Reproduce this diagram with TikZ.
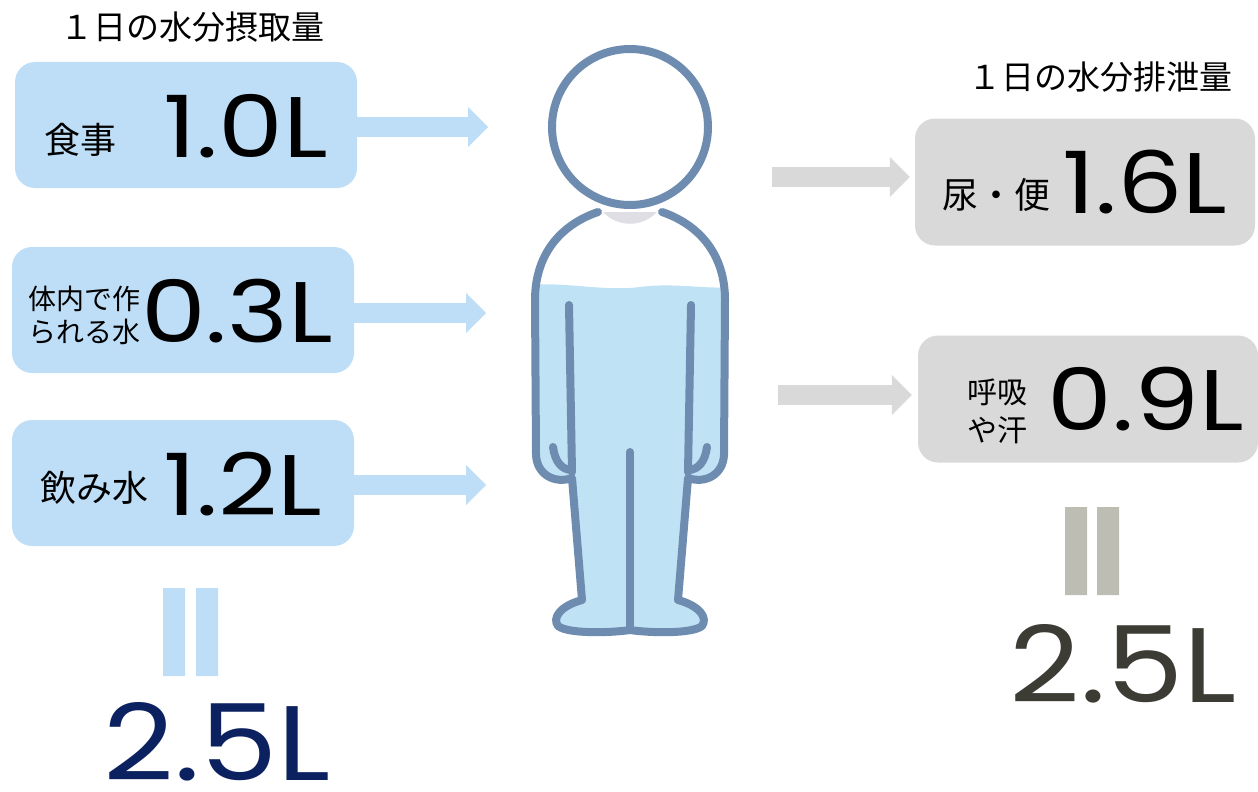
\documentclass[tikz,border=0pt]{standalone}
\usepackage{graphicx}
\usepackage{fontspec}
\setmainfont{Noto Sans CJK JP}
\newfontfamily\numfont{Poppins}
\usetikzlibrary{arrows.meta}

\definecolor{inblue}{RGB}{190,222,247}
\definecolor{outgray}{RGB}{217,217,217}
\definecolor{eqgray}{RGB}{189,189,180}
\definecolor{totalnavy}{RGB}{12,33,96}
\definecolor{totalgray}{RGB}{60,60,52}
\definecolor{figline}{RGB}{110,140,175}
\definecolor{water}{RGB}{192,226,245}
\definecolor{neckgray}{RGB}{222,222,228}

\newcommand{\fsz}[1]{\fontsize{#1}{#1}\selectfont}
\newcommand{\widenum}[2][1.2]{\scalebox{#1}[1]{#2}}

\begin{document}
\begin{tikzpicture}[x=1pt, y=-1pt,
    inbox/.style={fill=inblue, rounded corners=20pt, inner sep=0pt,
        minimum width=342pt, minimum height=126pt},
    outbox/.style={fill=outgray, rounded corners=20pt, inner sep=0pt,
        minimum width=340pt, minimum height=127pt},
    lbl/.style={inner sep=0pt, align=center},
    val/.style={inner sep=0pt, anchor=base, font=\numfont\fsz{86}},
    total/.style={inner sep=0pt, anchor=base, text depth=0pt, font=\numfont\fsz{106}},
    inarrow/.style={draw=inblue, line width=20pt,
        -{Triangle[length=20pt, width=40pt, line width=0pt]}},
    outarrow/.style={draw=outgray, line width=20pt,
        -{Triangle[length=20pt, width=40pt, line width=0pt]}}]
    \useasboundingbox (0,0) rectangle (1258,792);

    % 1. Cột trái: lượng nước đưa vào
    \node[lbl, font=\fsz{33}] (intitle) at (192,27) {１日の水分摂取量};

    \node[inbox] (food) at (186,125) {};
    \node[lbl, font=\fsz{36}] (foodlbl) at (80,140) {食事};
    \node[val] (foodval) at (246,157) {\widenum{1.0L}};

    \node[inbox] (inner) at (183,310) {};
    \node[lbl, font=\fontsize{28}{33}\selectfont] (innerlbl) at (84,315) {体内で作\\られる水};
    \node[val] (innerval) at (237,342) {\widenum{0.3L}};

    \node[inbox] (drink) at (183,483) {};
    \node[lbl, font=\fsz{36}] (drinklbl) at (94,488) {飲み水};
    \node[val] (drinkval) at (243,515) {\widenum{1.2L}};

    % 2. Cột phải: lượng nước thải ra
    \node[lbl, font=\fsz{33}] (outtitle) at (1100,77) {１日の水分排泄量};

    \node[outbox] (urine) at (1085,182) {};
    \node[lbl, font=\fsz{36}] (urinelbl) at (996,195) {尿・便};
    \node[val] (urineval) at (1145,213) {\widenum{1.6L}};

    \node[outbox] (breath) at (1088,399) {};
    \node[lbl, font=\fontsize{30}{38}\selectfont] (breathlbl) at (997,411) {呼吸\\や汗};
    \node[val] (breathval) at (1146,430) {\widenum{0.9L}};

    % 3. Mũi tên vào / ra
    \coordinate (in1) at (488,127);
    \coordinate (in2) at (486,313);
    \coordinate (in3) at (486,485);
    \coordinate (out1) at (772,177);
    \coordinate (out2) at (778,395);
    \draw[inarrow] (in1 -| food.east) -- (in1);
    \draw[inarrow] (in2 -| inner.east) -- (in2);
    \draw[inarrow] (in3 -| drink.east) -- (in3);
    \draw[outarrow, shorten >=5pt] (out1) -- (out1 -| urine.west);
    \draw[outarrow, shorten >=6pt] (out2) -- (out2 -| breath.west);

    % 4. Dấu bằng và tổng
    \fill[inblue] (163,588) rectangle (185,676) (196,588) rectangle (218,676);
    \fill[eqgray] (1065,507) rectangle (1087,595) (1097,507) rectangle (1119,595);
    \node[total, text=totalnavy] (intotal) at (217,780) {\widenum[1.16]{2.5L}};
    \node[total, text=totalgray] (outtotal) at (1123,702) {\widenum[1.16]{2.5L}};

    % 5. Hình người chứa nước
    \def\bodypath{(598,212) .. controls (560,225) and (535,255) .. (535,300)
        -- (536,455) .. controls (537,475) and (555,484) .. (572,478)
        -- (582,600) .. controls (560,606) and (552,618) .. (558,626)
        .. controls (568,634) and (610,633) .. (630,630)
        .. controls (650,633) and (692,634) .. (702,626)
        .. controls (708,618) and (700,606) .. (678,600)
        -- (688,478) .. controls (705,484) and (723,475) .. (724,455)
        -- (725,300) .. controls (725,255) and (700,225) .. (662,212)}
    \fill[white] \bodypath -- cycle;
    \begin{scope}
        \clip \bodypath -- cycle;
        \fill[water] (520,286) .. controls (560,280) and (600,292) .. (640,287)
            .. controls (680,282) and (710,291) .. (740,286)
            -- (740,640) -- (520,640) -- cycle;
        \fill[neckgray] (598,205) .. controls (612,230) and (648,230) .. (662,205) -- cycle;
    \end{scope}
    \begin{scope}[draw=figline, line width=8pt, line cap=round, line join=round]
        \draw \bodypath;
        \draw (569,305) -- (572,472);
        \draw (691,305) -- (688,472);
        \draw (630,452) -- (630,626);
        \draw (553,447) .. controls (555,462) and (562,470) .. (572,470);
        \draw (707,447) .. controls (705,462) and (698,470) .. (688,470);
        \draw[fill=white] (630,127) circle[radius=78pt];
    \end{scope}
\end{tikzpicture}
\end{document}
